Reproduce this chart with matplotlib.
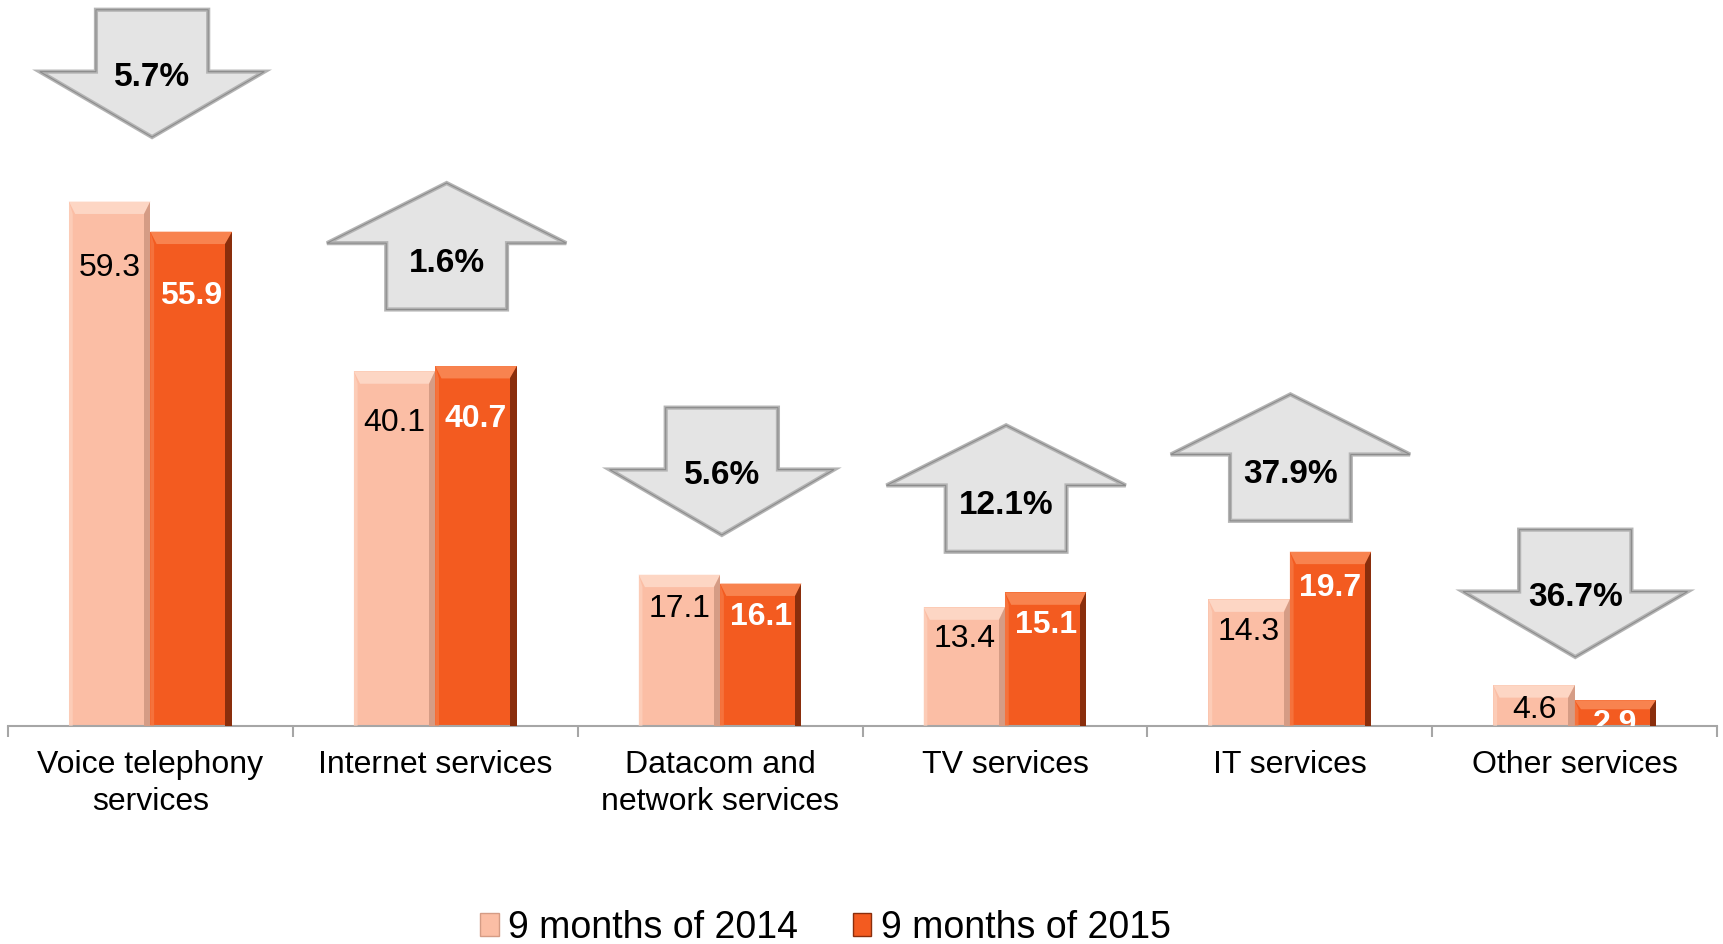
import numpy as np
import matplotlib
matplotlib.use("Agg")
import matplotlib.pyplot as plt
from matplotlib.patches import Polygon, Patch

plt.rcParams['font.family'] = ['Liberation Sans', 'DejaVu Sans']

# ============================================================
# Data
# ============================================================

categories = ['Voice telephony\nservices', 'Internet services',
              'Datacom and\nnetwork services', 'TV services',
              'IT services', 'Other services']
series_names = ['9 months of 2014', '9 months of 2015']
values_2014 = [59.3, 40.1, 17.1, 13.4, 14.3, 4.6]
values_2015 = [55.9, 40.7, 16.1, 15.1, 19.7, 2.9]
pct_change = [-5.7, 1.6, -5.6, 12.1, 37.9, -36.7]

# arrow placement (shoulder level, data units) and small x shifts
arrow_shoulder = [74.0, 54.6, 29.0, 27.2, 30.7, 15.2]
arrow_shift = [0.006, 0.04, 0.006, 0.004, 0.002, 0.002]

# colours: face, top bevel, right bevel
c14 = ('#FBBEA5', '#FDD6C4', '#D59C85')
c15 = ('#F35B20', '#F8834F', '#8A2E0C')
arrow_face = '#E4E4E4'
arrow_edge = '#B4B4B4'

# ============================================================
# Figure
# ============================================================

fig = plt.figure(figsize=(17.23, 9.44), dpi=100)
ax = fig.add_axes([0.0046, 0.231, 0.992, 0.769])

n = len(categories)
x = np.arange(n)
w = 1 / 3.5

ax.set_xlim(-0.5, n - 0.5)
ax.set_ylim(0, 82.1)


def bevel_bar(xc, h, cols):
    x0 = xc - w / 2
    ax.bar(xc, h, w, color=cols[0], edgecolor='none', zorder=2)
    dx = 0.022
    hb = min(1.4, h * 0.35)
    # top band
    ax.add_patch(Polygon([(x0, h), (x0 + w, h), (x0 + w - dx, h - hb),
                          (x0 + dx, h - hb)], closed=True,
                         facecolor=cols[1], edgecolor='none', zorder=3))
    # right dark edge
    ax.add_patch(Polygon([(x0 + w, h), (x0 + w, 0), (x0 + w - dx, 0),
                          (x0 + w - dx, h - hb)], closed=True,
                         facecolor=cols[2], edgecolor='none', zorder=3))
    # left light edge
    ax.add_patch(Polygon([(x0, h), (x0 + dx * 0.6, h - hb), (x0 + dx * 0.6, 0),
                          (x0, 0)], closed=True,
                         facecolor=cols[1], edgecolor='none', alpha=0.6,
                         zorder=3))


for i in range(n):
    bevel_bar(x[i] - w / 2, values_2014[i], c14)
    bevel_bar(x[i] + w / 2, values_2015[i], c15)

    # value labels
    y14 = values_2014[i] * 0.913 - 2.4
    y15 = values_2015[i] * 0.913 - 2.4
    ax.text(x[i] - w / 2, y14, f'{values_2014[i]:.1f}', ha='center',
            va='center', fontsize=23, color='black', zorder=5, clip_on=True)
    ax.text(x[i] + w / 2, y15, f'{values_2015[i]:.1f}', ha='center',
            va='center', fontsize=23, color='white', fontweight='bold',
            zorder=5, clip_on=True)

# ============================================================
# Change arrows
# ============================================================

for i in range(n):
    xc = x[i] + arrow_shift[i]
    sh = arrow_shoulder[i]
    if pct_change[i] < 0:
        hs, hh = 0.197, 0.394
        top, tip = sh + 7.0, sh - 7.4
        pts = [(xc - hs, top), (xc + hs, top), (xc + hs, sh), (xc + hh, sh),
               (xc, tip), (xc - hh, sh), (xc - hs, sh)]
        ty = sh - 0.7
    else:
        hs, hh = 0.212, 0.42
        tip, bot = sh + 6.8, sh - 7.5
        pts = [(xc, tip), (xc + hh, sh), (xc + hs, sh), (xc + hs, bot),
               (xc - hs, bot), (xc - hs, sh), (xc - hh, sh)]
        ty = sh - 2.3
    ax.add_patch(Polygon(pts, closed=True, facecolor=arrow_face,
                         edgecolor=arrow_edge, linewidth=3.0, zorder=4,
                         joinstyle='miter'))
    ax.add_patch(Polygon(pts, closed=True, facecolor='none',
                         edgecolor='#8C8C8C', linewidth=0.8, zorder=4,
                         joinstyle='miter'))
    ax.text(xc, ty, f'{abs(pct_change[i]):.1f}%', ha='center', va='center',
            fontsize=24, fontweight='bold', color='black', zorder=6)

# ============================================================
# Axes styling
# ============================================================

for s in ['left', 'right', 'top']:
    ax.spines[s].set_visible(False)
ax.spines['bottom'].set_color('#A6A6A6')
ax.spines['bottom'].set_linewidth(1.5)
ax.set_yticks([])

ax.set_xticks(x)
ax.set_xticklabels(categories, fontsize=23, linespacing=1.32)
ax.tick_params(axis='x', which='major', length=0, pad=17)
ax.set_xticks(np.arange(-0.5, n), minor=True)
ax.tick_params(axis='x', which='minor', length=8, width=1.5,
               color='#A6A6A6', direction='out')

handles = [Patch(facecolor=c14[0], edgecolor=c14[2], linewidth=1),
           Patch(facecolor=c15[0], edgecolor=c15[2], linewidth=1)]
fig.legend(handles, series_names, loc='center', bbox_to_anchor=(0.479, 0.017),
           ncol=2, frameon=False, fontsize=27, handlelength=0.5,
           handleheight=0.55, handletextpad=0.25, columnspacing=1.45)

fig.savefig('out.png', dpi=100)
